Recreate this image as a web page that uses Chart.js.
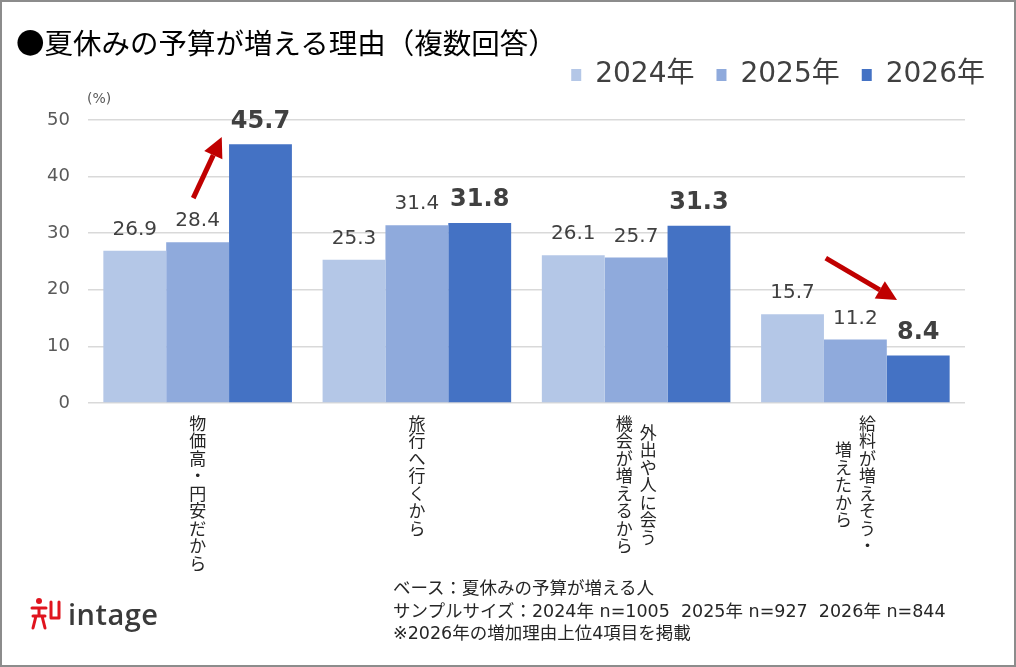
<!DOCTYPE html>
<html lang="ja">
<head>
<meta charset="UTF-8">
<title>夏休みの予算が増える理由 - intage</title>
<script src="https://cdn.jsdelivr.net/npm/chart.js@4"></script>
<style>
  html, body { margin: 0; padding: 0; background: #fff; }
  body { position: relative; width: 1016px; height: 667px; overflow: hidden; font-family: "Noto Sans CJK JP", sans-serif; }
  #chart { position: absolute; left: 0; top: 0; }
  #frame { position: absolute; left: 0; top: 0; width: 1016px; height: 667px; box-sizing: border-box; border: 2px solid #8c8c8c; pointer-events: none; }
  #title { position: absolute; left: 16px; top: 22px; height: 40px; line-height: 40px; font-size: 28.5px; color: #000; white-space: nowrap; }
  #note { position: absolute; left: 393px; top: 577px; font-family: "DejaVu Sans", "Noto Sans CJK JP", sans-serif; font-size: 17.5px; line-height: 22.5px; color: #262626; white-space: nowrap; }
  #logo { position: absolute; left: 30px; top: 596px; height: 34px; display: flex; align-items: center; }
  #logo span { font-family: "Open Sans", sans-serif; font-size: 29px; font-weight: 600; color: #3a3a3a; margin-left: 6px; letter-spacing: 0.5px; }
</style>
</head>
<body>
<canvas id="chart" width="1016" height="667"></canvas>
<div id="title">●夏休みの予算が増える理由（複数回答）</div>
<div id="note">ベース：夏休みの予算が増える人<br>サンプルサイズ：2024年 n=1005&nbsp;&nbsp;2025年 n=927&nbsp;&nbsp;2026年 n=844<br>※2026年の増加理由上位4項目を掲載</div>
<div id="logo">
  <svg width="32" height="34" viewBox="0 0 32 34">
    <g stroke="#e0141e" stroke-width="3" fill="none" stroke-linecap="round">
      <circle cx="9" cy="5" r="3" fill="#e0141e" stroke="none"/>
      <path d="M2 12 L16 12 M9 12 L9 20 M3 20 L15 20 M6 20 L3 32 M12 20 L15 32 M21 6 L21 22 M29 6 L29 22 M21 22 L29 22"/>
    </g>
  </svg>
  <span>intage</span>
</div>
<div id="frame"></div>

<script>
const categories = [['物価高・円安だから'], ['旅行へ行くから'], ['外出や人に会う', '機会が増えるから'], ['給料が増えそう・', '増えたから']];
const seriesNames = ['2024年', '2025年', '2026年'];
const values2024 = [26.9, 25.3, 26.1, 15.7];
const values2025 = [28.4, 31.4, 25.7, 11.2];
const values2026 = [45.7, 31.8, 31.3, 8.4];
const yTicks = [0, 10, 20, 30, 40, 50];
const colors = ['#b4c7e7', '#8faadc', '#4472c4'];
// red trend arrows as [category position, value]
const arrowTails = [[-0.02, 36.2], [2.865, 25.6]];
const arrowHeads = [[0.11, 47.0], [3.19, 18.2]];

const valueLabels = {
  id: 'valueLabels',
  afterDatasetsDraw(chart) {
    const ctx = chart.ctx;
    ctx.save();
    ctx.textAlign = 'center';
    ctx.textBaseline = 'middle';
    ctx.fillStyle = '#404040';
    chart.data.datasets.forEach((ds, i) => {
      const bold = i === 2;
      ctx.font = bold ? 'bold 24px "DejaVu Sans"' : '20px "DejaVu Sans"';
      chart.getDatasetMeta(i).data.forEach((bar, j) => {
        ctx.fillText(ds.data[j].toFixed(1), bar.x, bar.y - (bold ? 23 : 21));
      });
    });
    ctx.restore();
  }
};

const verticalLabels = {
  id: 'verticalLabels',
  afterDraw(chart) {
    const { ctx, chartArea, scales: { x } } = chart;
    const step = 17.5, colGap = 24;
    ctx.save();
    ctx.font = '17px "Noto Sans CJK JP"';
    ctx.fillStyle = '#262626';
    ctx.textAlign = 'center';
    ctx.textBaseline = 'top';
    categories.forEach((lines, i) => {
      const cx = x.getPixelForValue(i);
      const longest = Math.max(...lines.map(l => [...l].length));
      lines.forEach((line, j) => {
        const chars = [...line];
        const colX = cx + (lines.length - 1) * colGap / 2 - j * colGap;
        let y = chartArea.bottom + 12 + (longest - chars.length) * step / 2;
        chars.forEach(ch => { ctx.fillText(ch, colX, y); y += step; });
      });
    });
    // unit label
    ctx.font = '14px "DejaVu Sans"';
    ctx.fillStyle = '#595959';
    ctx.textAlign = 'left';
    ctx.textBaseline = 'middle';
    ctx.fillText('(%)', chartArea.left - 1, chartArea.top - 21);
    ctx.restore();
  }
};

function drawArrow(ctx, x1, y1, x2, y2) {
  const ang = Math.atan2(y2 - y1, x2 - x1);
  const head = 20, half = 10;
  const bx = x2 - head * Math.cos(ang), by = y2 - head * Math.sin(ang);
  ctx.beginPath(); ctx.moveTo(x1, y1); ctx.lineTo(bx, by); ctx.stroke();
  ctx.beginPath();
  ctx.moveTo(x2, y2);
  ctx.lineTo(bx + half * Math.sin(ang), by - half * Math.cos(ang));
  ctx.lineTo(bx - half * Math.sin(ang), by + half * Math.cos(ang));
  ctx.closePath();
  ctx.fill();
}

const trendArrows = {
  id: 'trendArrows',
  afterDraw(chart) {
    const { ctx, scales: { x, y } } = chart;
    ctx.save();
    ctx.strokeStyle = '#c00000';
    ctx.fillStyle = '#c00000';
    ctx.lineWidth = 5;
    arrowTails.forEach((t, i) => {
      const h = arrowHeads[i];
      drawArrow(ctx, x.getPixelForValue(t[0]), y.getPixelForValue(t[1]), x.getPixelForValue(h[0]), y.getPixelForValue(h[1]));
    });
    ctx.restore();
  }
};

const hidden = { grid: { display: false }, ticks: { display: false }, border: { display: false } };

new Chart(document.getElementById('chart'), {
  type: 'bar',
  data: {
    labels: categories,
    datasets: [
      { label: seriesNames[0], data: values2024, backgroundColor: colors[0], xAxisID: 'x', yAxisID: 'y' },
      { label: seriesNames[1], data: values2025, backgroundColor: colors[1], xAxisID: 'x', yAxisID: 'y' },
      { label: seriesNames[2], data: values2026, backgroundColor: colors[2], xAxisID: 'x', yAxisID: 'y' }
    ]
  },
  options: {
    responsive: false,
    animation: false,
    layout: { padding: { top: 39, left: 0, right: 9, bottom: 0 } },
    datasets: { bar: { categoryPercentage: 0.86, barPercentage: 1.0, borderWidth: 0 } },
    scales: {
      x: { ...hidden, afterFit: s => { s.height = 264; } },
      y: {
        min: 0, max: 50,
        afterBuildTicks: s => { s.ticks = yTicks.map(v => ({ value: v })); },
        grid: { color: '#d9d9d9', lineWidth: 1.5, drawTicks: false },
        border: { display: false },
        ticks: { padding: 18, color: '#595959', font: { family: '"DejaVu Sans"', size: 18 } },
        afterFit: s => { s.width = 88; }
      },
      xTop: { type: 'linear', position: 'top', ...hidden, afterFit: s => { s.height = 21; } },
      yRight: { type: 'linear', position: 'right', ...hidden, afterFit: s => { s.width = 42; } }
    },
    plugins: {
      legend: {
        position: 'top',
        align: 'end',
        labels: {
          boxWidth: 10, boxHeight: 12, padding: 22, color: '#404040',
          font: { family: '"DejaVu Sans", "Noto Sans CJK JP"', size: 28 }
        }
      },
      tooltip: { enabled: false },
      title: { display: false }
    }
  },
  plugins: [valueLabels, verticalLabels, trendArrows]
});
</script>
</body>
</html>
